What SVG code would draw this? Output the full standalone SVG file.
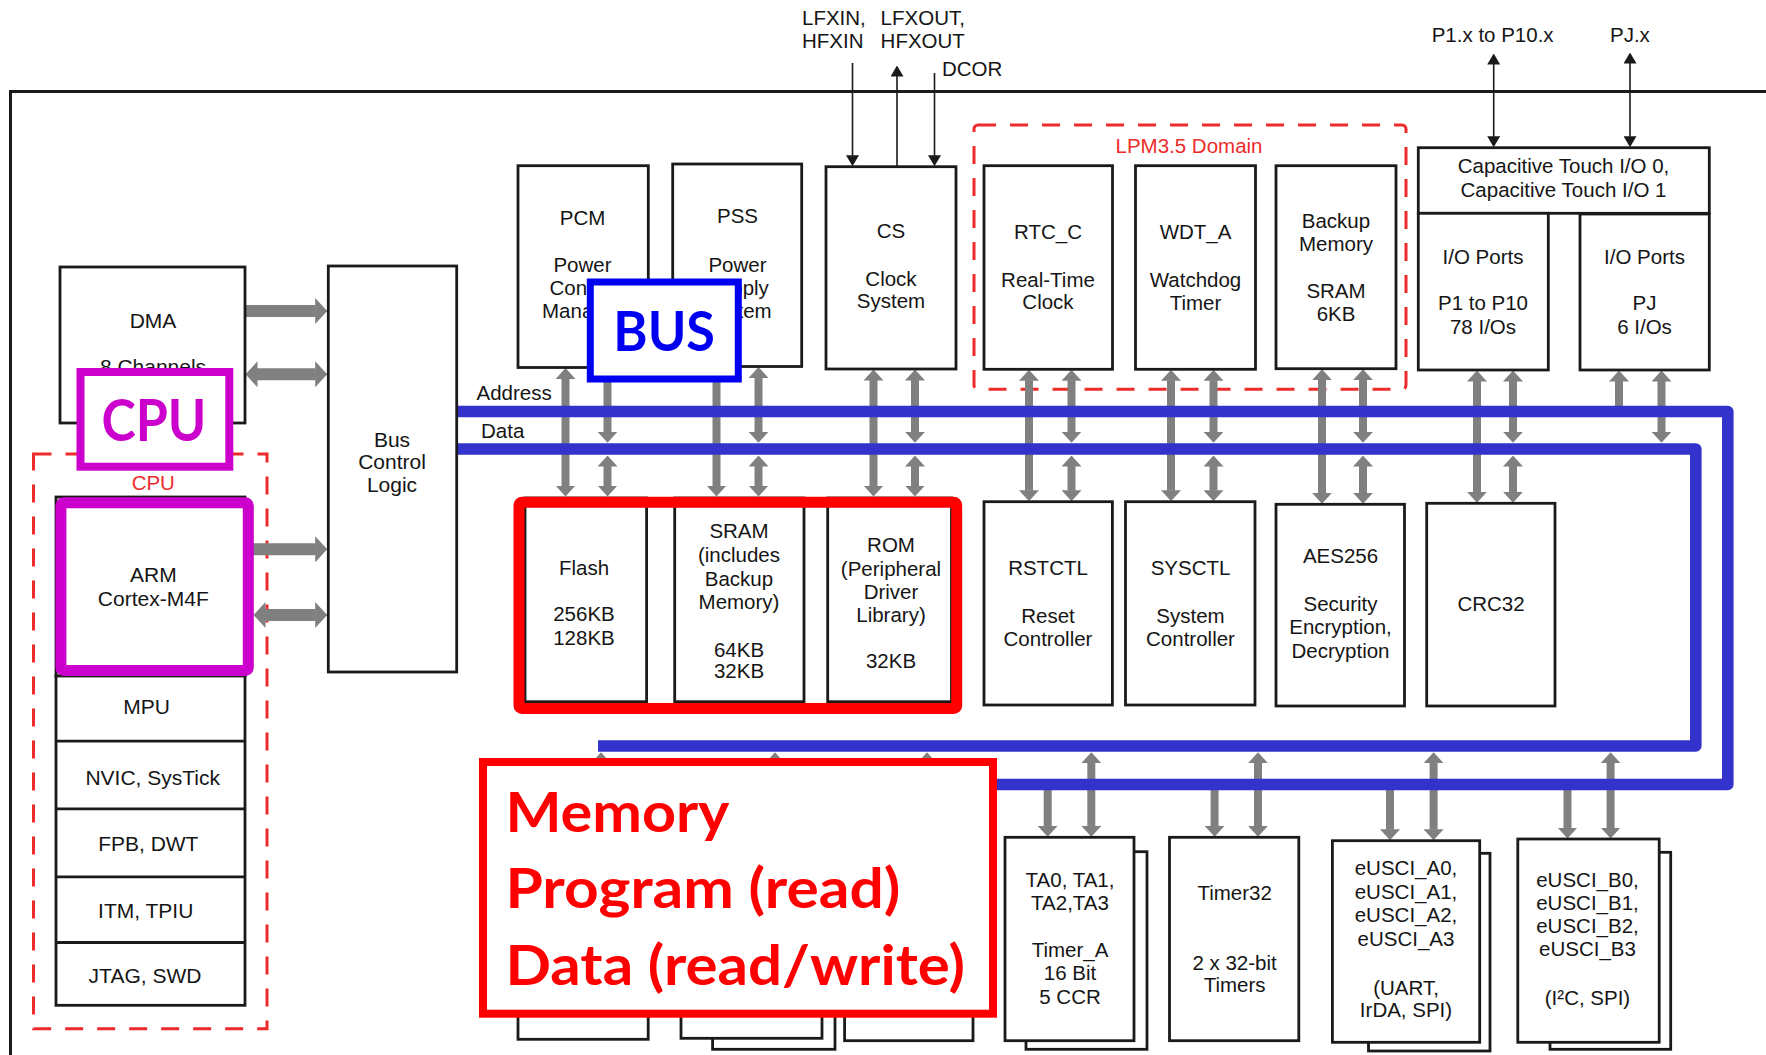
<svg xmlns="http://www.w3.org/2000/svg" width="1766" height="1055" viewBox="0 0 1766 1055">
<style>
.b{fill:#fff;stroke:#1a1a1a;stroke-width:2.8}
.t{font-family:"Liberation Sans",Arial,sans-serif;font-size:20.5px;fill:#151515;text-anchor:middle}
.tl{font-family:"Liberation Sans",Arial,sans-serif;font-size:21px;fill:#151515;text-anchor:middle}
.ts{font-family:"Liberation Sans",Arial,sans-serif;font-size:20.5px;fill:#151515}
.dsh{fill:none;stroke:#ee2b2b;stroke-width:3;stroke-dasharray:18 14}
.rl{font-family:"Liberation Sans",Arial,sans-serif;font-size:20.5px;fill:#ee2b2b;text-anchor:middle}
.g{stroke:#808080;stroke-width:8;fill:none}
.gw{stroke:#808080;stroke-width:12;fill:none}
.k{stroke:#1a1a1a;stroke-width:1.6;fill:none}
.bus{stroke:#3333cc;stroke-width:11.6;fill:none;stroke-linejoin:round}
.big{font-family:Lato,"Open Sans",sans-serif;font-weight:bold}
</style>
<defs>
<marker id="gh" viewBox="0 0 11 20" refX="0.5" refY="10" markerWidth="11" markerHeight="20" markerUnits="userSpaceOnUse" orient="auto-start-reverse"><path d="M0,0 L11,10 L0,20 z" fill="#808080"/></marker>
<marker id="gb" viewBox="0 0 12 26" refX="0.5" refY="13" markerWidth="12" markerHeight="26" markerUnits="userSpaceOnUse" orient="auto-start-reverse"><path d="M0,0 L12,13 L0,26 z" fill="#808080"/></marker>
<marker id="kh" viewBox="0 0 11 13" refX="0.5" refY="6.5" markerWidth="11" markerHeight="13" markerUnits="userSpaceOnUse" orient="auto-start-reverse"><path d="M0,0 L11,6.5 L0,13 z" fill="#1a1a1a"/></marker>
</defs>
<rect width="1766" height="1055" fill="#fff"/>
<rect id="chip-border" x="10.5" y="91.5" width="1800" height="1000" fill="none" stroke="#1a1a1a" stroke-width="3"/>

<g id="cpu-domain">
<rect class="dsh" x="33.5" y="454" width="233.5" height="574.7"/>
<text class="rl" x="153.3" y="489.7">CPU</text>
</g>
<g id="lpm-domain">
<rect class="dsh" x="974" y="125" width="432" height="264.3" rx="4"/>
<text class="rl" x="1189" y="152.7">LPM3.5 Domain</text>
</g>

<g id="connectors">
<g id="gray-arrows">
<line class="g" x1="565.5" y1="378.5" x2="565.5" y2="486" marker-start="url(#gh)" marker-end="url(#gh)"/>
<line class="g" x1="607.5" y1="378.5" x2="607.5" y2="432.3" marker-start="url(#gh)" marker-end="url(#gh)"/>
<line class="g" x1="607.5" y1="466" x2="607.5" y2="486" marker-start="url(#gh)" marker-end="url(#gh)"/>
<line class="g" x1="716.5" y1="377.5" x2="716.5" y2="486" marker-start="url(#gh)" marker-end="url(#gh)"/>
<line class="g" x1="758.5" y1="377.5" x2="758.5" y2="432.3" marker-start="url(#gh)" marker-end="url(#gh)"/>
<line class="g" x1="758.5" y1="466" x2="758.5" y2="486" marker-start="url(#gh)" marker-end="url(#gh)"/>
<line class="g" x1="873.5" y1="380" x2="873.5" y2="486" marker-start="url(#gh)" marker-end="url(#gh)"/>
<line class="g" x1="915" y1="380" x2="915" y2="432.3" marker-start="url(#gh)" marker-end="url(#gh)"/>
<line class="g" x1="915" y1="466" x2="915" y2="486" marker-start="url(#gh)" marker-end="url(#gh)"/>
<line class="g" x1="1029" y1="380.3" x2="1029" y2="490.7" marker-start="url(#gh)" marker-end="url(#gh)"/>
<line class="g" x1="1071.5" y1="380.3" x2="1071.5" y2="432.3" marker-start="url(#gh)" marker-end="url(#gh)"/>
<line class="g" x1="1071.5" y1="466" x2="1071.5" y2="490.7" marker-start="url(#gh)" marker-end="url(#gh)"/>
<line class="g" x1="1171" y1="380.3" x2="1171" y2="490.7" marker-start="url(#gh)" marker-end="url(#gh)"/>
<line class="g" x1="1213.5" y1="380.3" x2="1213.5" y2="432.3" marker-start="url(#gh)" marker-end="url(#gh)"/>
<line class="g" x1="1213.5" y1="466" x2="1213.5" y2="490.7" marker-start="url(#gh)" marker-end="url(#gh)"/>
<line class="g" x1="1322" y1="379.7" x2="1322" y2="493.3" marker-start="url(#gh)" marker-end="url(#gh)"/>
<line class="g" x1="1363" y1="379.7" x2="1363" y2="432.3" marker-start="url(#gh)" marker-end="url(#gh)"/>
<line class="g" x1="1363" y1="466" x2="1363" y2="493.3" marker-start="url(#gh)" marker-end="url(#gh)"/>
<line class="g" x1="1477" y1="381" x2="1477" y2="492.3" marker-start="url(#gh)" marker-end="url(#gh)"/>
<line class="g" x1="1513" y1="381" x2="1513" y2="432.3" marker-start="url(#gh)" marker-end="url(#gh)"/>
<line class="g" x1="1513" y1="466" x2="1513" y2="492.3" marker-start="url(#gh)" marker-end="url(#gh)"/>
<line class="g" x1="1619" y1="381" x2="1619" y2="412" marker-start="url(#gh)"/>
<line class="g" x1="1661.5" y1="381" x2="1661.5" y2="432.3" marker-start="url(#gh)" marker-end="url(#gh)"/>

<line class="g" x1="558" y1="785" x2="558" y2="827" marker-end="url(#gh)"/>
<line class="g" x1="601" y1="762.7" x2="601" y2="827" marker-start="url(#gh)" marker-end="url(#gh)"/>
<line class="g" x1="732" y1="785" x2="732" y2="827" marker-end="url(#gh)"/>
<line class="g" x1="775" y1="762.7" x2="775" y2="827" marker-start="url(#gh)" marker-end="url(#gh)"/>
<line class="g" x1="884" y1="785" x2="884" y2="827" marker-end="url(#gh)"/>
<line class="g" x1="927" y1="762.7" x2="927" y2="827" marker-start="url(#gh)" marker-end="url(#gh)"/>
<line class="g" x1="1047.7" y1="785" x2="1047.7" y2="826.3" marker-end="url(#gh)"/>
<line class="g" x1="1091.3" y1="762.7" x2="1091.3" y2="826.3" marker-start="url(#gh)" marker-end="url(#gh)"/>
<line class="g" x1="1214.6" y1="785" x2="1214.6" y2="826.3" marker-end="url(#gh)"/>
<line class="g" x1="1258" y1="762.7" x2="1258" y2="826.3" marker-start="url(#gh)" marker-end="url(#gh)"/>
<line class="g" x1="1390" y1="785" x2="1390" y2="829.7" marker-end="url(#gh)"/>
<line class="g" x1="1433.6" y1="762.7" x2="1433.6" y2="829.7" marker-start="url(#gh)" marker-end="url(#gh)"/>
<line class="g" x1="1567.5" y1="785" x2="1567.5" y2="828" marker-end="url(#gh)"/>
<line class="g" x1="1610.6" y1="762.7" x2="1610.6" y2="828" marker-start="url(#gh)" marker-end="url(#gh)"/>

<line class="gw" x1="245" y1="311" x2="315.7" y2="311" marker-end="url(#gb)"/>
<line class="gw" x1="257" y1="374.3" x2="315.7" y2="374.3" marker-start="url(#gb)" marker-end="url(#gb)"/>
<line class="gw" x1="248" y1="549.3" x2="315.7" y2="549.3" marker-end="url(#gb)"/>
<line class="gw" x1="265" y1="615" x2="315.7" y2="615" marker-start="url(#gb)" marker-end="url(#gb)"/>
</g>
<g id="pin-arrows">
<line class="k" x1="852.5" y1="63" x2="852.5" y2="155.7" marker-end="url(#kh)"/>
<line class="k" x1="897" y1="166.7" x2="897" y2="76" marker-end="url(#kh)"/>
<line class="k" x1="934.5" y1="73" x2="934.5" y2="155.7" marker-end="url(#kh)"/>
<line class="k" x1="1493.7" y1="64" x2="1493.7" y2="136.7" marker-start="url(#kh)" marker-end="url(#kh)"/>
<line class="k" x1="1630" y1="63" x2="1630" y2="136.7" marker-start="url(#kh)" marker-end="url(#kh)"/>
</g>
<g id="buses">
<path class="bus" d="M457,411.5 H1727.8 V784.5 H600"/>
<path class="bus" d="M457,449 H1695.8 V746 H598"/>
</g>
</g>

<g id="pin-labels">
<text class="ts" x="802" y="25">LFXIN,</text>
<text class="ts" x="802" y="48">HFXIN</text>
<text class="ts" x="880.6" y="25">LFXOUT,</text>
<text class="ts" x="880.6" y="48">HFXOUT</text>
<text class="ts" x="942" y="76">DCOR</text>
<text class="ts" x="1431.7" y="41.7">P1.x to P10.x</text>
<text class="ts" x="1610" y="41.7">PJ.x</text>
<text class="ts" x="476.5" y="400">Address</text>
<text class="ts" x="481" y="438.3">Data</text>
</g>

<g id="dma"><rect class="b" x="60" y="267" width="185" height="156"/>
<text class="tl"><tspan x="153" y="328">DMA</tspan><tspan x="153" y="374">8 Channels</tspan></text></g>
<g id="bus-control-logic"><rect class="b" x="328.3" y="266" width="128.4" height="406"/>
<text class="tl"><tspan x="392" y="446.7">Bus</tspan><tspan x="392" y="469.3">Control</tspan><tspan x="392" y="492.3">Logic</tspan></text></g>
<g id="arm-cortex"><rect class="b" x="56" y="497" width="189" height="179"/>
<text class="tl"><tspan x="153.3" y="582">ARM</tspan><tspan x="153.3" y="606.3">Cortex-M4F</tspan></text></g>
<g id="cpu-stack"><rect class="b" x="56" y="676" width="189" height="329.3"/>
<path d="M56,741.2 H245 M56,808.8 H245 M56,876.9 H245 M56,942.5 H245" stroke="#1a1a1a" stroke-width="2.8" fill="none"/>
<text class="tl" x="146.7" y="713.6">MPU</text>
<text class="tl" x="152.7" y="784.5">NVIC, SysTick</text>
<text class="tl" x="148.3" y="851.3">FPB, DWT</text>
<text class="tl" x="145.7" y="918.2">ITM, TPIU</text>
<text class="tl" x="145" y="983">JTAG, SWD</text></g>

<g id="pcm"><rect class="b" x="518" y="165.7" width="130.3" height="201.8"/>
<text class="t"><tspan x="582.5" y="225">PCM</tspan><tspan x="582.5" y="271.7">Power</tspan><tspan x="582.5" y="295">Control</tspan><tspan x="582.5" y="318.3">Manager</tspan></text></g>
<g id="pss"><rect class="b" x="672.7" y="164" width="129" height="202.5"/>
<text class="t"><tspan x="737.5" y="223.3">PSS</tspan><tspan x="737.5" y="271.7">Power</tspan><tspan x="737.5" y="295">Supply</tspan><tspan x="737.5" y="318.3">System</tspan></text></g>
<g id="cs"><rect class="b" x="826" y="166.7" width="130" height="202.3"/>
<text class="t"><tspan x="891" y="237.7">CS</tspan><tspan x="891" y="286">Clock</tspan><tspan x="891" y="308.3">System</tspan></text></g>
<g id="rtc-c"><rect class="b" x="984" y="165.7" width="128.5" height="203.6"/>
<text class="t"><tspan x="1048" y="239">RTC_C</tspan><tspan x="1048" y="286.7">Real-Time</tspan><tspan x="1048" y="309">Clock</tspan></text></g>
<g id="wdt-a"><rect class="b" x="1135.5" y="165.7" width="120" height="203.6"/>
<text class="t"><tspan x="1195.5" y="239">WDT_A</tspan><tspan x="1195.5" y="286.7">Watchdog</tspan><tspan x="1195.5" y="310">Timer</tspan></text></g>
<g id="backup-memory"><rect class="b" x="1276" y="165.7" width="120" height="203"/>
<text class="t"><tspan x="1336" y="228">Backup</tspan><tspan x="1336" y="251">Memory</tspan><tspan x="1336" y="298">SRAM</tspan><tspan x="1336" y="320.7">6KB</tspan></text></g>
<g id="cap-touch"><rect class="b" x="1418.3" y="147.7" width="291" height="65.6"/>
<text class="t"><tspan x="1563.5" y="173.3">Capacitive Touch I/O 0,</tspan><tspan x="1563.5" y="197.3">Capacitive Touch I/O 1</tspan></text></g>
<g id="io-p1-p10"><rect class="b" x="1418.3" y="213.3" width="130" height="156.7"/>
<text class="t"><tspan x="1483" y="264">I/O Ports</tspan><tspan x="1483" y="310">P1 to P10</tspan><tspan x="1483" y="334">78 I/Os</tspan></text></g>
<g id="io-pj"><rect class="b" x="1580" y="214" width="129.3" height="156"/>
<text class="t"><tspan x="1644.5" y="264">I/O Ports</tspan><tspan x="1644.5" y="310">PJ</tspan><tspan x="1644.5" y="334">6 I/Os</tspan></text></g>

<g id="flash"><rect class="b" x="525" y="498" width="121.6" height="203.7"/>
<text class="t"><tspan x="584" y="575">Flash</tspan><tspan x="584" y="620.7">256KB</tspan><tspan x="584" y="645">128KB</tspan></text></g>
<g id="sram"><rect class="b" x="674.7" y="498" width="129.3" height="203.7"/>
<text class="t"><tspan x="739" y="537.7">SRAM</tspan><tspan x="739" y="561.7">(includes</tspan><tspan x="739" y="586">Backup</tspan><tspan x="739" y="609.3">Memory)</tspan><tspan x="739" y="656.7">64KB</tspan><tspan x="739" y="678.3">32KB</tspan></text></g>
<g id="rom"><rect class="b" x="827.7" y="498" width="123.8" height="203.7"/>
<text class="t"><tspan x="891" y="551.7">ROM</tspan><tspan x="891" y="575.7">(Peripheral</tspan><tspan x="891" y="599">Driver</tspan><tspan x="891" y="622.3">Library)</tspan><tspan x="891" y="668.3">32KB</tspan></text></g>
<g id="rstctl"><rect class="b" x="984" y="501.7" width="128.4" height="203.3"/>
<text class="t"><tspan x="1048" y="575">RSTCTL</tspan><tspan x="1048" y="622.7">Reset</tspan><tspan x="1048" y="646">Controller</tspan></text></g>
<g id="sysctl"><rect class="b" x="1125.5" y="501.7" width="129.5" height="203.3"/>
<text class="t"><tspan x="1190.5" y="575">SYSCTL</tspan><tspan x="1190.5" y="622.7">System</tspan><tspan x="1190.5" y="646">Controller</tspan></text></g>
<g id="aes256"><rect class="b" x="1276" y="504.3" width="128.5" height="201.7"/>
<text class="t"><tspan x="1340.5" y="563.3">AES256</tspan><tspan x="1340.5" y="610.7">Security</tspan><tspan x="1340.5" y="634.3">Encryption,</tspan><tspan x="1340.5" y="657.7">Decryption</tspan></text></g>
<g id="crc32"><rect class="b" x="1426.7" y="503.3" width="128.3" height="202.7"/>
<text class="t" x="1491" y="610.7">CRC32</text></g>

<g id="periph-1"><rect class="b" x="518" y="838" width="130.2" height="201.3"/></g>
<g id="periph-2"><rect class="b" x="712.6" y="850" width="122.4" height="199.3"/><rect class="b" x="681" y="838" width="141" height="200.3"/></g>
<g id="periph-3"><rect class="b" x="844.6" y="838" width="128.4" height="202.7"/></g>
<g id="timer-a"><rect class="b" x="1026" y="851.7" width="121" height="197.6"/><rect class="b" x="1005" y="837.3" width="129" height="203.4"/>
<text class="t"><tspan x="1070" y="886.7">TA0, TA1,</tspan><tspan x="1070" y="910">TA2,TA3</tspan><tspan x="1070" y="956.7">Timer_A</tspan><tspan x="1070" y="980">16 Bit</tspan><tspan x="1070" y="1004">5 CCR</tspan></text></g>
<g id="timer32"><rect class="b" x="1169.5" y="837.3" width="129.3" height="203.4"/>
<text class="t"><tspan x="1234.6" y="900">Timer32</tspan><tspan x="1234.6" y="970">2 x 32-bit</tspan><tspan x="1234.6" y="991.7">Timers</tspan></text></g>
<g id="eusci-a"><rect class="b" x="1368.5" y="853.3" width="121.5" height="197.7"/><rect class="b" x="1332.4" y="840.7" width="147.3" height="201.6"/>
<text class="t"><tspan x="1406" y="875">eUSCI_A0,</tspan><tspan x="1406" y="898.5">eUSCI_A1,</tspan><tspan x="1406" y="922.3">eUSCI_A2,</tspan><tspan x="1406" y="945.7">eUSCI_A3</tspan><tspan x="1406" y="995">(UART,</tspan><tspan x="1406" y="1016.7">IrDA, SPI)</tspan></text></g>
<g id="eusci-b"><rect class="b" x="1550" y="852.3" width="120.7" height="197"/><rect class="b" x="1517.8" y="839" width="141.4" height="203.3"/>
<text class="t"><tspan x="1587.5" y="886.7">eUSCI_B0,</tspan><tspan x="1587.5" y="910">eUSCI_B1,</tspan><tspan x="1587.5" y="933.3">eUSCI_B2,</tspan><tspan x="1587.5" y="955.7">eUSCI_B3</tspan><tspan x="1587.5" y="1005">(I²C, SPI)</tspan></text></g>

<g id="label-cpu">
<rect x="80.5" y="372" width="148.8" height="94.7" fill="#fff" stroke="#cc00cc" stroke-width="8"/>
<text class="big" x="101.4" y="441" font-size="57" fill="#cc00cc" textLength="105" lengthAdjust="spacingAndGlyphs">CPU</text>
</g>
<g id="highlight-arm"><rect x="60.9" y="502.7" width="187.4" height="167.8" rx="3" fill="none" stroke="#cc00cc" stroke-width="11"/></g>
<g id="label-bus">
<rect x="590.3" y="282" width="148" height="97" fill="#fff" stroke="#0000f0" stroke-width="7"/>
<text class="big" x="613.3" y="350.7" font-size="55" fill="#0000f0" textLength="101.7" lengthAdjust="spacingAndGlyphs">BUS</text>
</g>
<g id="highlight-memory"><rect x="519" y="502.2" width="437.7" height="206.3" rx="3" fill="none" stroke="#ff0000" stroke-width="11"/></g>
<g id="label-memory">
<rect x="483" y="762" width="510" height="251.7" fill="#fff" stroke="#ff0000" stroke-width="8"/>
<text class="big" x="505.4" y="831.7" font-size="56" fill="#ff0000" textLength="224" lengthAdjust="spacingAndGlyphs">Memory</text>
<text class="big" x="505.4" y="908.3" font-size="56" fill="#ff0000" textLength="395" lengthAdjust="spacingAndGlyphs">Program (read)</text>
<text class="big" x="505.4" y="985" font-size="56" fill="#ff0000" textLength="459.6" lengthAdjust="spacingAndGlyphs">Data (read/write)</text>
</g>
</svg>
